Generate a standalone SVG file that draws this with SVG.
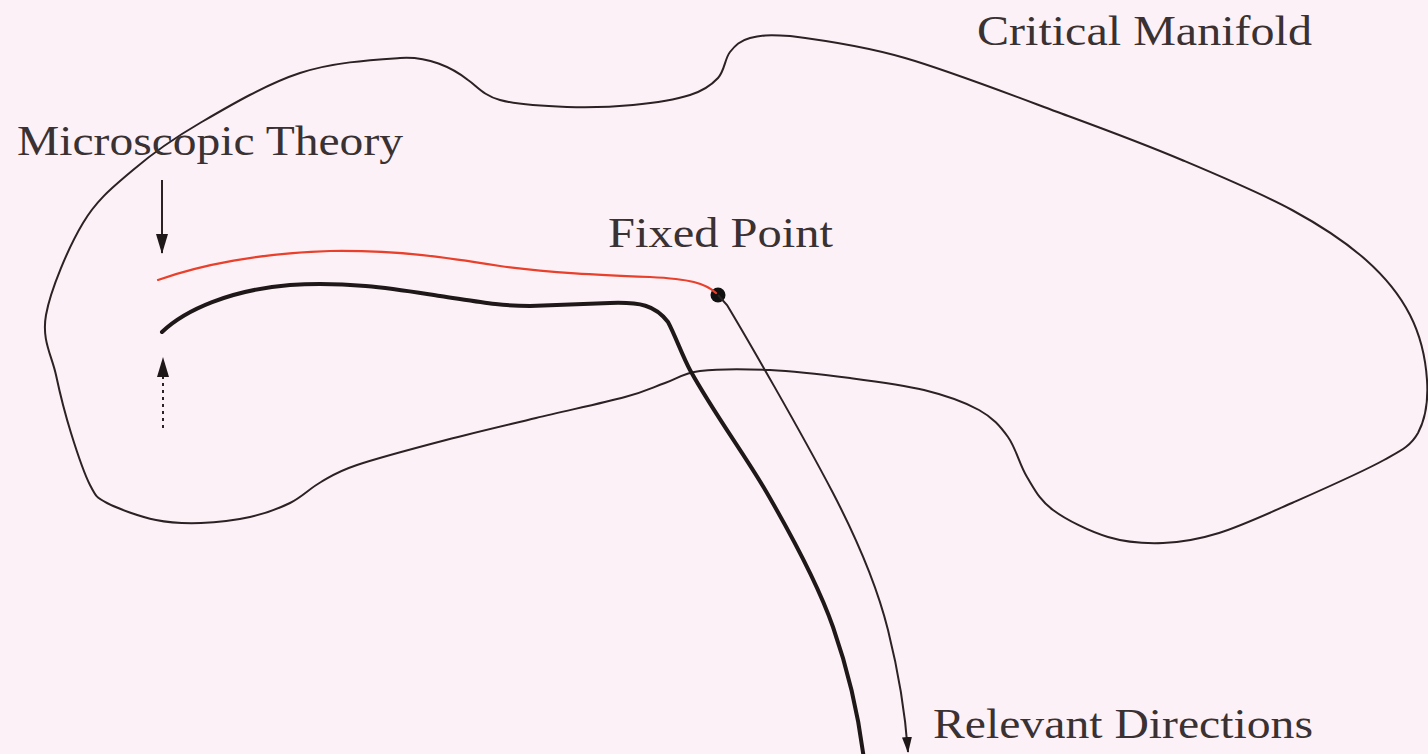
<svg xmlns="http://www.w3.org/2000/svg" width="1428" height="754" viewBox="0 0 1428 754">
<style>
.bg{fill:#fdf1f8}
.outline{fill:none;stroke:#2b2223;stroke-width:2}
.flow{fill:none;stroke:#1e1818;stroke-width:4;stroke-linecap:round;stroke-linejoin:round}
.red{fill:none;stroke:#e8402a;stroke-width:2.2;stroke-linecap:round}
.thin{fill:none;stroke:#2b2223;stroke-width:2}
.lbl{font-family:"Liberation Serif","DejaVu Serif",serif;font-size:43px;fill:#3a3133}
</style>
<defs>
<marker id="ah" viewBox="0 0 20 12" refX="19" refY="6" markerWidth="20" markerHeight="12" markerUnits="userSpaceOnUse" orient="auto">
<path d="M0,0 L20,6 L0,12 z" fill="#1e1818"/>
</marker>
<marker id="ahs" viewBox="0 0 16 10" refX="15" refY="5" markerWidth="16" markerHeight="10" markerUnits="userSpaceOnUse" orient="auto">
<path d="M0,0 L16,5 L0,10 z" fill="#1e1818"/>
</marker>
</defs>
<rect class="bg" x="0" y="0" width="1428" height="754"/>
<g id="critical-manifold">
<path class="outline" d="M46,315 C50.5,289.7 68.5,247.2 83,223 C97.5,198.8 113.5,186.7 133,170 C152.5,153.3 172.2,139.2 200,123 C227.8,106.8 266.7,83.8 300,73 C333.3,62.2 370,60 400,58 C428,56 452,67.5 468,80 C477.2,86.3 483.5,95.5 500,100 C516.5,104.5 544.8,106.2 567,107 C589.2,107.8 612.5,107 633,105 C653.5,103 675.8,99.5 690,95 C704.2,90.5 711.3,85.2 718,78 C724.7,70.8 724.7,58.7 730,52 C735.3,45.3 740,40.7 750,38 C760,35.3 768,34.5 790,36 C815.8,39.3 858.2,44.5 905,58 C951.8,71.5 1024.8,100 1071,117 C1117.2,134 1145.2,144.5 1182,160 C1218.8,175.5 1261.3,193.3 1292,210 C1322.7,226.7 1346.3,242.5 1366,260 C1385.7,277.5 1399.8,295 1410,315 C1420.2,335 1425.7,360.3 1427,380 C1428.3,399.7 1426,418 1418,433 C1410,447 1400,451 1384,460 C1363,471.7 1319.5,490.8 1292,503 C1264.5,515.2 1240.5,526.3 1219,533 C1197.5,539.7 1181.5,542.3 1163,543 C1144.5,543.7 1126.3,542.5 1108,537 C1089.7,531.5 1066.5,520 1053,510 C1039.5,500 1034.5,489.2 1027,477 C1019.5,464.8 1016,448.2 1008,437 C1000,425.8 993,417.8 979,410 C965,402.2 945.5,395.3 924,390 C902.5,384.7 875.7,381.3 850,378 C824.3,374.7 795,371.2 770,370 C745,368.8 717.5,368.8 700,371 C682.5,373.2 677.5,378.7 665,383 C652.5,387.3 646.5,391.2 625,397 C603.5,402.8 565.8,410.8 536,418 C506.2,425.2 475.8,432.2 446,440 C416.2,447.8 377.8,458 357,465 C336.2,472 332.2,475.7 321,482 C309.8,488.3 301.8,497.2 290,503 C278.2,508.8 264.8,513.7 250,517 C235.2,520.3 216.7,522.5 201,523 C185.3,523.5 171.7,523.3 156,520 C140.3,516.7 118,508.8 107,503 C96,497.2 96,496.7 90,485 C84,473.3 76.7,451.3 71,433 C65.3,414.7 60.2,394.7 56,375 C51.8,355.3 41.5,340.3 46,315 Z"/>
<text class="lbl" x="977" y="45" textLength="335" lengthAdjust="spacingAndGlyphs">Critical Manifold</text>
</g>
<g id="microscopic-theory">
<text class="lbl" x="17" y="155" textLength="386" lengthAdjust="spacingAndGlyphs">Microscopic Theory</text>
</g>
<g id="fixed-point">
<text class="lbl" x="608" y="247" textLength="225" lengthAdjust="spacingAndGlyphs">Fixed Point</text>
<circle cx="718" cy="295" r="7.5" fill="#111"/>
</g>
<g id="relevant-directions">
<text class="lbl" x="933" y="738" textLength="380" lengthAdjust="spacingAndGlyphs">Relevant Directions</text>
</g>
<g id="connectors">
<path class="thin" d="M162,180 L162,253" marker-end="url(#ah)"/>
<path class="thin" d="M163,428 L163,358" stroke-dasharray="3 4" marker-end="url(#ah)"/>
<path class="red" d="M158,280 C200,265 260,253 330,251 C400,250 450,258 500,266 C550,273 600,275 650,277 C690,279 705,283 716,293"/>
<path class="flow" d="M162,332 C185,310 230,290 290,285 C350,281 400,290 440,296 C480,302 500,306 530,306 L610,303 C640,302 655,305 668,322 C675,335 682,355 690,370 C715,415 745,455 767,493 C800,550 820,590 833,627 C848,670 858,710 864,760"/>
<path class="thin" d="M718,295 L727,305 C745,335 800,430 833,493 C860,545 878,590 888,630 C898,670 905,710 908,752" marker-end="url(#ahs)"/>
</g>
</svg>
